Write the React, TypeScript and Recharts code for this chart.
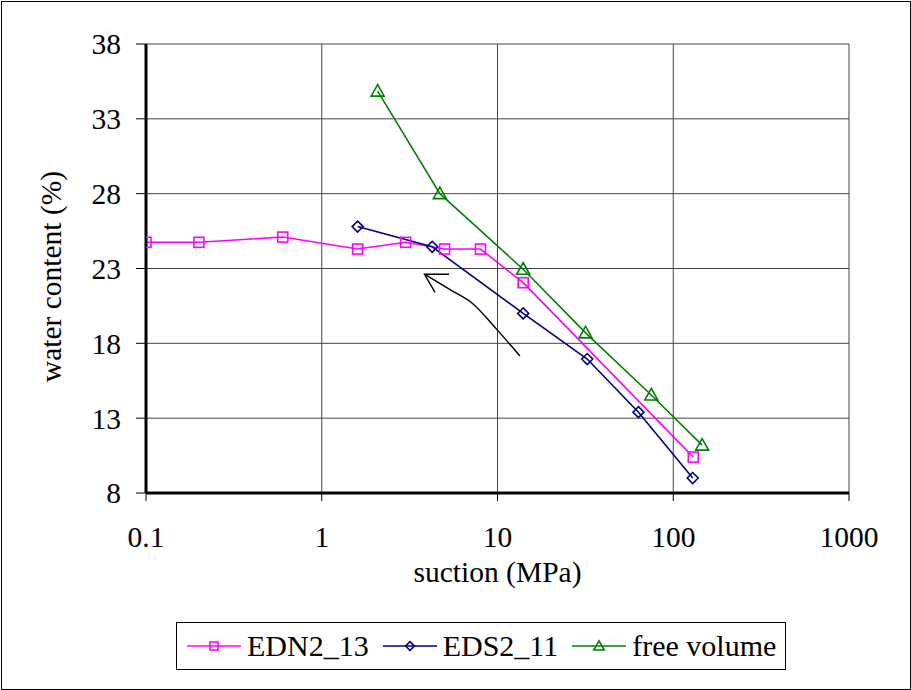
import React from "react";
import {
    CartesianGrid,
    Line,
    LineChart,
    XAxis,
    YAxis,
} from "recharts";

// suction (MPa) / water content (%)
const edn2Suction = [0.1, 0.2, 0.6, 1.6, 3.0, 5.0, 8.0, 14, 130];
const edn2Water = [24.75, 24.75, 25.1, 24.3, 24.75, 24.3, 24.3, 22.05, 10.4];

const eds2Suction = [1.6, 4.25, 14, 32.4, 63.4, 129];
const eds2Water = [25.8, 24.45, 20.0, 16.95, 13.4, 9.0];

const freeSuction = [2.08, 4.7, 14, 31.7, 75, 146];
const freeWater = [34.85, 28.0, 22.95, 18.7, 14.55, 11.2];

// hand-drawn arrow (drying path) in data units
const arrowSuction = [13.4, 9.96, 7.18, 5.4, 3.84];
const arrowWater = [17.16, 18.9, 20.68, 21.57, 22.62];
const headSuction = [5.3, 3.84, 4.41];
const headWater = [22.62, 22.62, 21.4];

const xTicks = [0.1, 1, 10, 100, 1000];
const yTicks = [8, 13, 18, 23, 28, 33, 38];

const zip = (xs: number[], ys: number[]) => xs.map((x, i) => ({ x, y: ys[i] }));

const series = [
    { name: "EDN2_13", color: "#ff00ff", shape: "square", data: zip(edn2Suction, edn2Water) },
    { name: "EDS2_11", color: "#000080", shape: "diamond", data: zip(eds2Suction, eds2Water) },
    { name: "free volume", color: "#008000", shape: "triangle", data: zip(freeSuction, freeWater) },
];

const FONT = "Liberation Serif, DejaVu Serif, serif";
const FS = 29.5;

function Marker({ shape, color, cx, cy, r = 5 }: { shape: string; color: string; cx: number; cy: number; r?: number }) {
    if (shape === "square") {
        return <rect x={cx - r} y={cy - r} width={2 * r} height={2 * r} fill="none" stroke={color} strokeWidth={1.6} />;
    }
    if (shape === "diamond") {
        const d = r * 1.1;
        return (
            <polygon
                points={`${cx},${cy - d} ${cx + d},${cy} ${cx},${cy + d} ${cx - d},${cy}`}
                fill="none"
                stroke={color}
                strokeWidth={1.6}
            />
        );
    }
    const t = r * 1.3;
    return (
        <polygon
            points={`${cx},${cy - t} ${cx + t},${cy + r} ${cx - t},${cy + r}`}
            fill="none"
            stroke={color}
            strokeWidth={1.6}
        />
    );
}

function LegendBox() {
    return (
        <div
            style={{
                position: "absolute",
                left: 176,
                top: 622,
                width: 610,
                height: 48,
                boxSizing: "border-box",
                border: "1px solid #000",
                display: "flex",
                alignItems: "center",
                paddingLeft: 10,
                fontFamily: FONT,
                fontSize: 30,
                color: "#000",
                whiteSpace: "nowrap",
            }}
        >
            {series.map((s) => (
                <div key={s.name} style={{ display: "flex", alignItems: "center", marginRight: 14 }}>
                    <svg width={54} height={20} style={{ marginRight: 6 }}>
                        <line x1={0} y1={10} x2={54} y2={10} stroke={s.color} strokeWidth={1.6} />
                        <Marker shape={s.shape} color={s.color} cx={27} cy={10} r={4} />
                    </svg>
                    <span>{s.name}</span>
                </div>
            ))}
        </div>
    );
}

export default function App() {
    const tickStyle = { fill: "#000", fontSize: FS, fontFamily: FONT };
    return (
        <div
            style={{
                position: "absolute",
                left: 0,
                top: 0,
                width: 911,
                height: 690,
                background: "#fff",
                overflow: "hidden",
                fontFamily: FONT,
            }}
        >
            <div
                style={{
                    position: "absolute",
                    left: 1,
                    top: 1,
                    width: 908,
                    height: 687,
                    border: "1px solid #000",
                }}
            />
            <LineChart
                width={911}
                height={690}
                margin={{ top: 44, right: 62, bottom: 0, left: 0 }}
                style={{ position: "absolute", left: 0, top: 0, fontFamily: FONT }}
            >
                <CartesianGrid stroke="#444" strokeWidth={1} />
                <XAxis
                    dataKey="x"
                    type="number"
                    scale="log"
                    domain={[0.1, 1000]}
                    ticks={xTicks}
                    allowDataOverflow
                    height={197}
                    tickSize={8}
                    tickMargin={25}
                    tick={tickStyle}
                    tickLine={{ stroke: "#000" }}
                    axisLine={{ stroke: "#000", strokeWidth: 3 }}
                    label={{
                        content: ({ viewBox }: any) => (
                            <text
                                x={viewBox.x + viewBox.width / 2}
                                y={viewBox.y + 79}
                                textAnchor="middle"
                                dominantBaseline="central"
                                fontFamily={FONT}
                                fontSize={FS}
                                fill="#000"
                            >
                                suction (MPa)
                            </text>
                        ),
                    }}
                />
                <XAxis
                    xAxisId="top"
                    orientation="top"
                    dataKey="x"
                    type="number"
                    scale="log"
                    domain={[0.1, 1000]}
                    ticks={xTicks}
                    height={0}
                    tick={false}
                    tickLine={false}
                    axisLine={{ stroke: "#000", strokeWidth: 3 }}
                />
                <YAxis
                    type="number"
                    domain={[8, 38]}
                    ticks={yTicks}
                    width={146}
                    tickSize={10}
                    tickMargin={15}
                    tick={tickStyle}
                    tickLine={{ stroke: "#000" }}
                    axisLine={{ stroke: "#000", strokeWidth: 3 }}
                    label={{
                        content: ({ viewBox }: any) => {
                            const cx = viewBox.x + 51;
                            const cy = viewBox.y + viewBox.height / 2 + 8;
                            return (
                                <text
                                    x={cx}
                                    y={cy}
                                    textAnchor="middle"
                                    dominantBaseline="central"
                                    transform={`rotate(-90, ${cx}, ${cy})`}
                                    fontFamily={FONT}
                                    fontSize={FS}
                                    fill="#000"
                                >
                                    water content (%)
                                </text>
                            );
                        },
                    }}
                />
                <YAxis
                    yAxisId="right"
                    orientation="right"
                    type="number"
                    domain={[8, 38]}
                    width={0}
                    tick={false}
                    tickLine={false}
                    axisLine={{ stroke: "#000", strokeWidth: 3 }}
                />
                {series.map((s) => (
                    <Line
                        key={s.name}
                        data={s.data}
                        dataKey="y"
                        name={s.name}
                        type="linear"
                        stroke={s.color}
                        strokeWidth={1.6}
                        isAnimationActive={false}
                        dot={(p: any) => (
                            <Marker key={`${s.name}-${p.index}`} shape={s.shape} color={s.color} cx={p.cx} cy={p.cy} />
                        )}
                    />
                ))}
                <Line
                    data={zip(arrowSuction, arrowWater)}
                    dataKey="y"
                    type="monotone"
                    stroke="#000"
                    strokeWidth={1.4}
                    dot={false}
                    legendType="none"
                    isAnimationActive={false}
                />
                <Line
                    data={zip(headSuction, headWater)}
                    dataKey="y"
                    type="linear"
                    stroke="#000"
                    strokeWidth={1.4}
                    dot={false}
                    legendType="none"
                    isAnimationActive={false}
                />
            </LineChart>
            <LegendBox />
        </div>
    );
}
